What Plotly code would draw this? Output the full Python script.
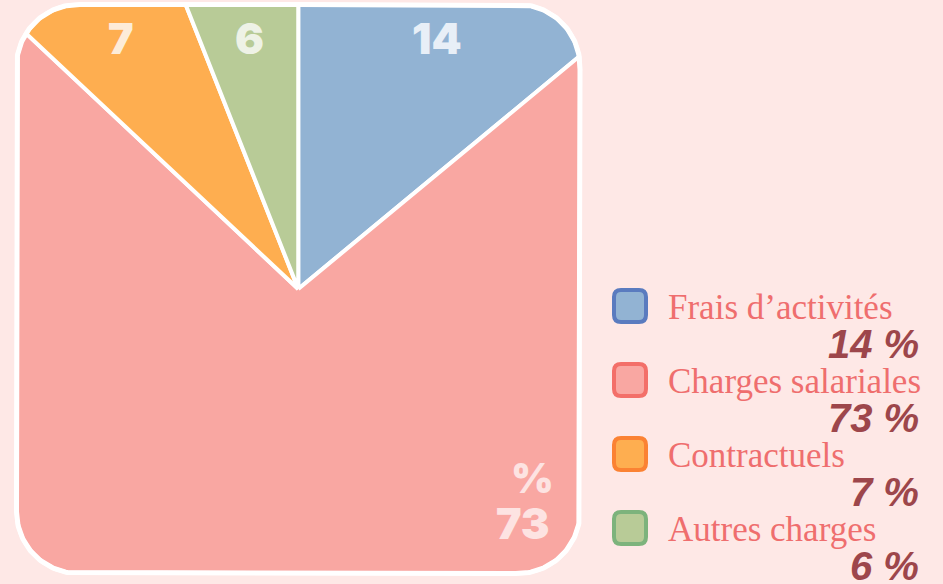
import numpy as np
import plotly.graph_objects as go

# ---- data ----
categories = ["Frais d’activités", "Charges salariales", "Contractuels", "Autres charges"]
values = [14, 73, 7, 6]
pct_labels = ["14 %", "73 %", "7 %", "6 %"]

# ---- style ----
fills = ["#92b3d3", "#f9a7a2", "#feae50", "#b8cb97"]
borders = ["#5a7bbf", "#f36f69", "#fb8233", "#7db37c"]
label_colors = ["#e8eff7", "#fde3e2", "#fdecd9", "#eef2e6"]
BG = "#fee8e6"
LEGEND_TEXT = "#ef6e6e"
PCT_COLOR = "#9d464b"

W, H = 943, 584
CX, CY = 298.25, 289.0
HW, HH = 281.75, 284.5
R = 62
# label anchor positions inside slices (layout)
label_pos = [(437, 38), (523, 523), (121, 38), (249, 38)]


def boundary(theta):
    ux, uy = np.sin(theta), -np.cos(theta)
    tx = HW / abs(ux) if abs(ux) > 1e-12 else np.inf
    ty = HH / abs(uy) if abs(uy) > 1e-12 else np.inf
    t = min(tx, ty)
    x, y = t * ux, t * uy
    if abs(x) > HW - R and abs(y) > HH - R:
        cx = np.sign(x) * (HW - R)
        cy = np.sign(y) * (HH - R)
        b = ux * cx + uy * cy
        c = cx * cx + cy * cy - R * R
        t = b + np.sqrt(b * b - c)
        x, y = t * ux, t * uy
    return CX + x, CY + y


fig = go.Figure()
total = float(sum(values))
start = 0.0
for i, v in enumerate(values):
    frac = v / total
    th = np.linspace(2 * np.pi * start, 2 * np.pi * (start + frac), max(3, int(frac * 1440)))
    pts = [boundary(t) for t in th]
    xs = [CX] + [p[0] for p in pts] + [CX]
    ys = [CY] + [p[1] for p in pts] + [CY]
    fig.add_trace(go.Scatter(
        x=xs, y=ys, mode="lines", fill="toself", fillcolor=fills[i],
        line=dict(color="white", width=4), name=categories[i],
        hoverinfo="name", showlegend=False))
    start += frac

# outer outline
th = np.linspace(0, 2 * np.pi, 1440)
pts = [boundary(t) for t in th]
fig.add_trace(go.Scatter(x=[p[0] for p in pts], y=[p[1] for p in pts], mode="lines",
                         line=dict(color="white", width=5), hoverinfo="skip", showlegend=False))

annotations = []
slice_font = "Inter, DejaVu Sans"
for i, v in enumerate(values):
    x, y = label_pos[i]
    annotations.append(dict(x=x, y=y, xref="x", yref="y", text="%d" % v, showarrow=False,
                            font=dict(family=slice_font, size=43, color=label_colors[i], weight=900),
                            xanchor="center", yanchor="middle"))
    if y > CY:
        annotations.append(dict(x=x + 9, y=y - 45, xref="x", yref="y", text="%", showarrow=False,
                                font=dict(family=slice_font, size=41, color=label_colors[i], weight=900),
                                xanchor="center", yanchor="middle"))

shapes = []
LY0, STEP, SX = 306, 74, 630
s, rr = 16, 7
for i, cat in enumerate(categories):
    y = LY0 + i * STEP
    x = SX
    path = (f"M {x-s+rr},{y-s} L {x+s-rr},{y-s} Q {x+s},{y-s} {x+s},{y-s+rr} "
            f"L {x+s},{y+s-rr} Q {x+s},{y+s} {x+s-rr},{y+s} L {x-s+rr},{y+s} "
            f"Q {x-s},{y+s} {x-s},{y+s-rr} L {x-s},{y-s+rr} Q {x-s},{y-s} {x-s+rr},{y-s} Z")
    shapes.append(dict(type="path", path=path, xref="x", yref="y",
                       fillcolor=fills[i], line=dict(color=borders[i], width=4)))
    annotations.append(dict(x=666, y=y + 1, xref="x", yref="y", text=cat, showarrow=False,
                            font=dict(family="Liberation Serif", size=35, color=LEGEND_TEXT),
                            xanchor="left", yanchor="middle"))
    annotations.append(dict(x=921, y=y + 38, xref="x", yref="y", text="<b><i>%s</i></b>" % pct_labels[i],
                            showarrow=False,
                            font=dict(family="Liberation Sans", size=40, color=PCT_COLOR),
                            xanchor="right", yanchor="middle"))

fig.update_layout(
    width=W, height=H, margin=dict(l=0, r=0, t=0, b=0),
    paper_bgcolor=BG, plot_bgcolor=BG, showlegend=False,
    xaxis=dict(range=[0, W], visible=False, fixedrange=True),
    yaxis=dict(range=[H, 0], visible=False, fixedrange=True),
    annotations=annotations, shapes=shapes,
)

fig.write_html("out.html", config={"displayModeBar": False},
               post_script="document.body.style.margin='0';document.body.style.background='%s';" % BG)
